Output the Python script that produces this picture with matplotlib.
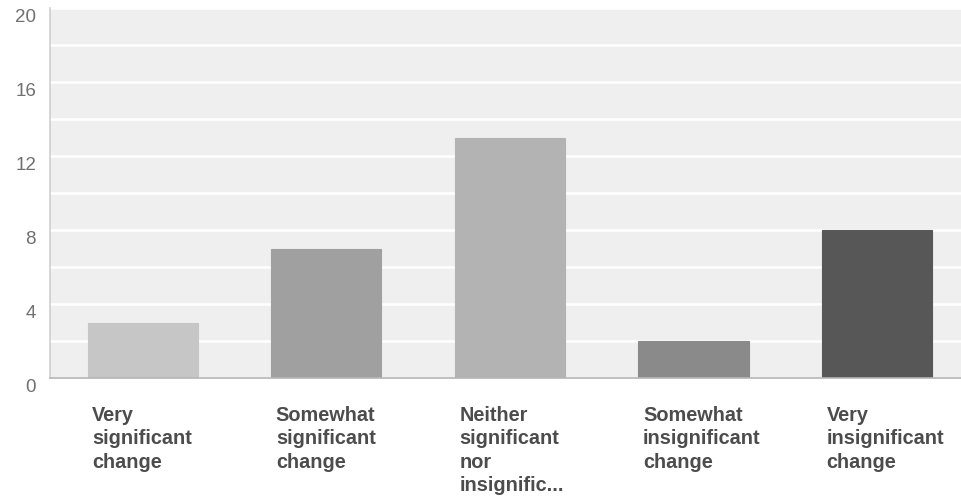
import matplotlib
matplotlib.use("Agg")
import matplotlib.pyplot as plt
import matplotlib.transforms as mtransforms
from matplotlib.ticker import MultipleLocator

# Survey responses: how significant was the change
categories = [
    "Very\nsignificant\nchange",
    "Somewhat\nsignificant\nchange",
    "Neither\nsignificant\nnor\ninsignific...",
    "Somewhat\ninsignificant\nchange",
    "Very\ninsignificant\nchange",
]
counts = [3, 7, 13, 2, 8]
bar_colors = ["#c6c6c6", "#a0a0a0", "#b3b3b3", "#8a8a8a", "#575757"]
y_ticks = [0, 4, 8, 12, 16, 20]

W, H = 961, 499
fig = plt.figure(figsize=(W / 100, H / 100), dpi=100)
fig.patch.set_facecolor("white")

left_px, right_px, top_px, bottom_px = 50, 961, 8, 378
ax = fig.add_axes([left_px / W, (H - bottom_px) / H,
                   (right_px - left_px) / W, (bottom_px - top_px) / H])
ax.set_facecolor("#efefef")

x = list(range(len(categories)))
ax.bar(x, counts, width=0.6, color=bar_colors, zorder=3,
       edgecolor=[c for c in bar_colors], linewidth=0.8)

ax.set_xlim(-0.505, 4.457)
ax.set_ylim(0, 20)

# white gridlines every 2 units
ax.yaxis.set_minor_locator(MultipleLocator(2))
ax.set_yticks(y_ticks)
ax.grid(True, which="both", axis="y", color="white", linewidth=1.8, zorder=1)
ax.set_axisbelow(True)

for side in ["top", "right"]:
    ax.spines[side].set_visible(False)
ax.spines["left"].set_color("#cfcfcf")
ax.spines["left"].set_linewidth(1.2)
ax.spines["bottom"].set_color("#b5b5b5")
ax.spines["bottom"].set_linewidth(1.2)
ax.spines["bottom"].set_zorder(4)

ax.set_xticks([])
ax.tick_params(axis="y", which="both", length=0, pad=10,
               labelsize=13.5, labelcolor="#707070")
for lbl in ax.get_yticklabels():
    lbl.set_fontfamily("Liberation Sans")
    lbl.set_transform(lbl.get_transform() +
                      mtransforms.ScaledTranslation(0, -8 / 100, fig.dpi_scale_trans))

# category labels, left aligned under each bar
trans = mtransforms.blended_transform_factory(ax.transData, fig.transFigure)
for xi, name in zip(x, categories):
    ax.text(xi - 0.3 + 0.025, (H - 406) / H, name, transform=trans,
            ha="left", va="top", fontsize=14.3, fontweight="bold",
            family="Liberation Sans", color="#4c4c4c", linespacing=1.29)

fig.savefig("out.png", dpi=100)
